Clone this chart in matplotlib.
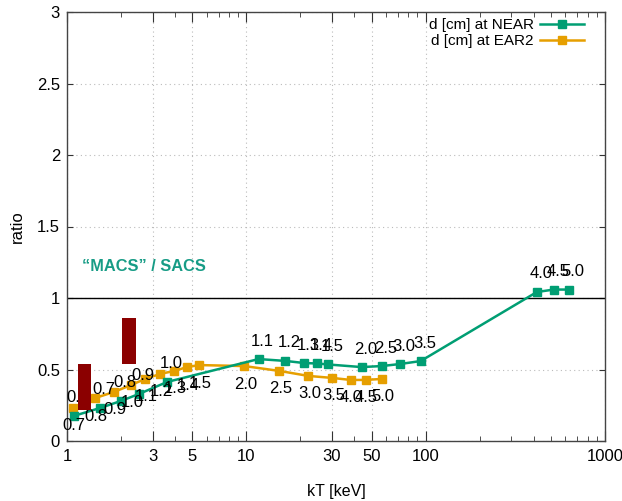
import matplotlib
matplotlib.use("Agg")
import matplotlib.pyplot as plt
from matplotlib.ticker import FixedLocator, NullFormatter, FixedFormatter
from matplotlib import font_manager

# --- data -------------------------------------------------------------
# d [cm] at NEAR
near_kT = [1.09, 1.53, 2.00, 2.52, 3.62, 11.7, 16.5, 21.1, 24.9, 28.7,
           43.9, 56.8, 71.6, 93.8, 417, 519, 629]
near_ratio = [0.175, 0.231, 0.280, 0.329, 0.413, 0.573, 0.560, 0.545, 0.542,
              0.535, 0.517, 0.524, 0.538, 0.559, 1.042, 1.059, 1.059]
near_d = ["0.6", "0.7", "0.8", "0.9", "1.0", "1.1", "1.2", "1.3", "1.4",
          "1.5", "2.0", "2.5", "3.0", "3.5", "4.0", "4.5", "5.0"]

# d [cm] at EAR2
ear2_kT = [1.08, 1.43, 1.83, 2.28, 2.73, 3.31, 3.96, 4.68, 5.46, 9.75,
           15.3, 22.2, 30.2, 38.1, 46.2, 56.8]
ear2_ratio = [0.231, 0.300, 0.343, 0.392, 0.434, 0.469, 0.490, 0.517, 0.531,
              0.524, 0.490, 0.455, 0.441, 0.427, 0.427, 0.434]
ear2_d = ["0.7", "0.8", "0.9", "1.0", "1.1", "1.2", "1.3", "1.4", "1.5",
          "2.0", "2.5", "3.0", "3.5", "4.0", "4.5", "5.0"]

# highlighted ranges (kT from-to, ratio from-to)
range_kT = [(1.15, 1.36), (2.03, 2.43)]
range_ratio = [(0.217, 0.538), (0.538, 0.860)]

x_ticks = [1, 3, 5, 10, 30, 50, 100, 1000]
x_ticklabels = ["1", "3", "5", "10", "30", "50", "100", "1000"]
y_ticks = [0, 0.5, 1, 1.5, 2, 2.5, 3]
y_ticklabels = ["0", "0.5", "1", "1.5", "2", "2.5", "3"]

# --- style ------------------------------------------------------------
names = {f.name for f in font_manager.fontManager.ttflist}
narrow = "Liberation Sans Narrow" if "Liberation Sans Narrow" in names else "Liberation Sans"
plt.rcParams["font.family"] = ["Liberation Sans", "DejaVu Sans"]

GREEN = "#009e73"
ORANGE = "#e69f00"
TEAL = "#179c86"
DARKRED = "#8b0000"

fig = plt.figure(figsize=(6.22, 5.01), dpi=100)
ax = fig.add_axes([67 / 622, 1 - 441 / 501, 538 / 622, 429 / 501])

ax.set_xscale("log")
ax.set_xlim(1, 1000)
ax.set_ylim(0, 3)

ax.xaxis.set_major_locator(FixedLocator(x_ticks))
ax.xaxis.set_major_formatter(FixedFormatter(x_ticklabels))
minor = [m * 10 ** e for e in range(0, 3) for m in range(2, 10)
         if m * 10 ** e not in x_ticks]
ax.xaxis.set_minor_locator(FixedLocator(minor))
ax.xaxis.set_minor_formatter(NullFormatter())
ax.yaxis.set_major_locator(FixedLocator(y_ticks))
ax.yaxis.set_major_formatter(FixedFormatter(y_ticklabels))

ax.grid(True, which="major", linestyle=(0, (1, 3)), color="#bbbbbb", linewidth=0.8)
ax.set_axisbelow(True)

ax.tick_params(axis="both", which="both", direction="in", top=True, right=True,
               colors="#333333", labelsize=12, labelcolor="black")
ax.tick_params(axis="x", which="major", length=7, pad=6)
ax.tick_params(axis="x", which="minor", length=3.5)
ax.tick_params(axis="y", which="major", length=4.5, pad=5)
for s in ax.spines.values():
    s.set_color("#444444")
    s.set_linewidth(1.0)

ax.axhline(1.0, color="black", linewidth=1.0, zorder=2)

ax.plot(near_kT, near_ratio, color=GREEN, marker="s", markersize=6.3,
        linewidth=1.8, label="d [cm] at NEAR", zorder=4)
ax.plot(ear2_kT, ear2_ratio, color=ORANGE, marker="s", markersize=6.3,
        linewidth=1.8, label="d [cm] at EAR2", zorder=3)

# point labels: NEAR above, EAR2 below
for x, y, t in zip(near_kT, near_ratio, near_d):
    ax.annotate(t, (x, y), xytext=(4, 18), textcoords="offset pixels",
                ha="center", va="center", fontsize=12, family=[narrow, "DejaVu Sans"],
                zorder=5)
for x, y, t in zip(ear2_kT, ear2_ratio, ear2_d):
    ax.annotate(t, (x, y), xytext=(1, -18), textcoords="offset pixels",
                ha="center", va="center", fontsize=12, family=[narrow, "DejaVu Sans"],
                zorder=5)

# highlighted ranges
for (x0, x1), (y0, y1) in zip(range_kT, range_ratio):
    ax.bar(x0, y1 - y0, width=x1 - x0, bottom=y0, align="edge",
           color=DARKRED, edgecolor="none", zorder=6)

ax.text(1.21, 1.22, "\u201cMACS\u201d / SACS", color=TEAL, fontsize=11.8,
        fontweight="bold", ha="left", va="center", zorder=5)

leg = ax.legend(loc="upper right", bbox_to_anchor=(0.961, 0.986), frameon=False,
                markerfirst=False, fontsize=11, handlelength=2.9,
                handletextpad=0.4, labelspacing=0.15, borderaxespad=0,
                borderpad=0)

ax.set_xlabel("kT [keV]", fontsize=11.5, labelpad=14)
ax.set_ylabel("ratio", fontsize=12, labelpad=9)

fig.savefig("out.png", dpi=100)
